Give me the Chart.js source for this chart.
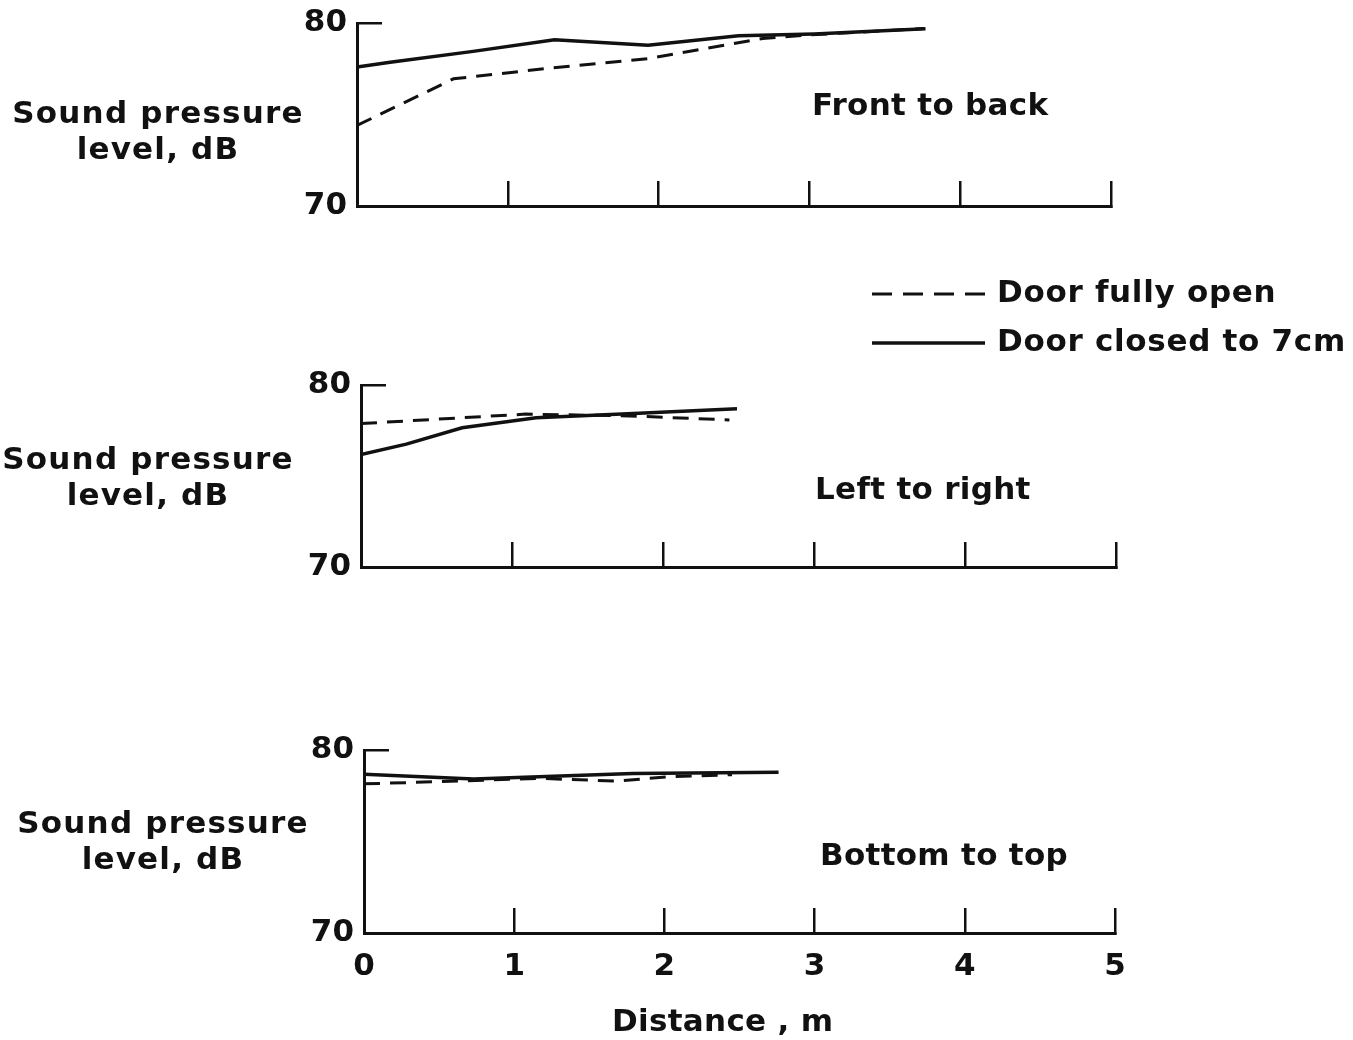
<!DOCTYPE html>
<html><head><meta charset="utf-8">
<script src="https://cdn.jsdelivr.net/npm/chart.js@4.4.0/dist/chart.umd.min.js"></script>
<style>
html,body{margin:0;padding:0;background:#fff;}
body{width:1353px;height:1040px;position:relative;overflow:hidden;}
canvas{position:absolute;left:0;}
.t{position:absolute;font-family:"DejaVu Sans";font-weight:bold;font-size:31px;color:#111;line-height:36px;letter-spacing:0.3px;white-space:nowrap;z-index:2;}
.yt{text-align:center;letter-spacing:1.2px;}
</style></head><body>
<canvas id="c1" width="1353" height="260" style="top:0px"></canvas>
<canvas id="c2" width="1353" height="360" style="top:260px"></canvas>
<canvas id="c3" width="1353" height="420" style="top:620px"></canvas>

<div class="t yt" style="left:0px;width:316px;top:94px">Sound pressure<br>level, dB</div>
<div class="t yt" style="left:0px;width:296px;top:440px">Sound pressure<br>level, dB</div>
<div class="t yt" style="left:0px;width:326px;top:804px">Sound pressure<br>level, dB</div>
<div class="t" id="p1" style="left:812px;top:86px"></div>
<div class="t" id="p2" style="left:815px;top:470px"></div>
<div class="t" id="p3" style="left:820px;top:836px"></div>
<div class="t" id="xt" style="left:612px;top:1002px"></div>

<script>
// ---- data ----
const xTickValues = [0, 1, 2, 3, 4, 5];
const yTickValues = [70, 80];
const panelNames = ['Front to back', 'Left to right', 'Bottom to top'];
const seriesNames = ['Door fully open', 'Door closed to 7cm'];
const xAxisTitle = 'Distance , m';

// Front to back
const ftbOpenX   = [0, 0.64, 1.24, 1.93, 2.69, 3.0, 3.76];
const ftbOpenY   = [74.4, 76.95, 77.5, 78.05, 79.15, 79.35, 79.7];
const ftbClosedX = [0, 0.22, 0.77, 1.31, 1.93, 2.53, 3.03, 3.77];
const ftbClosedY = [77.6, 77.85, 78.45, 79.08, 78.78, 79.3, 79.4, 79.68];

// Left to right
const ltrOpenX   = [0, 1.09, 1.78, 2.44];
const ltrOpenY   = [77.88, 78.4, 78.3, 78.08];
const ltrClosedX = [0, 0.3, 0.67, 1.16, 1.84, 2.49];
const ltrClosedY = [76.18, 76.75, 77.65, 78.2, 78.45, 78.7];

// Bottom to top
const bttOpenX   = [0, 0.5, 1.17, 1.68, 2.05, 2.45];
const bttOpenY   = [78.15, 78.27, 78.45, 78.3, 78.55, 78.65];
const bttClosedX = [0, 0.73, 1.79, 2.76];
const bttClosedY = [78.68, 78.42, 78.72, 78.78];

// ---- helpers ----
const FONT = 'DejaVu Sans';
const INK = '#111';
const zip = (xs, ys) => xs.map((x, i) => ({x: x, y: ys[i]}));

document.getElementById('p1').textContent = panelNames[0];
document.getElementById('p2').textContent = panelNames[1];
document.getElementById('p3').textContent = panelNames[2];
document.getElementById('xt').textContent = xAxisTitle;

const sideLegend = {
  id: 'sideLegend',
  afterDraw(chart, args, o) {
    if (!o || !o.items) return;
    const ctx = chart.ctx;
    ctx.save();
    o.items.forEach(it => {
      const d = chart.data.datasets[it.index];
      ctx.strokeStyle = d.borderColor;
      ctx.lineWidth = d.borderWidth;
      ctx.setLineDash(it.dash || d.borderDash || []);
      ctx.beginPath();
      ctx.moveTo(o.x0, it.y);
      ctx.lineTo(o.x1, it.y);
      ctx.stroke();
      ctx.setLineDash([]);
      ctx.fillStyle = INK;
      ctx.font = 'bold 31px "' + FONT + '"';
      try { ctx.letterSpacing = '0.7px'; } catch (e) {}
      ctx.textBaseline = 'middle';
      ctx.textAlign = 'left';
      ctx.fillText(d.label, o.tx, it.y);
    });
    ctx.restore();
  }
};

function makePanel(id, openX, openY, closedX, closedY, g, showX, legendOpts) {
  const canvas = document.getElementById(id);
  const H = canvas.height;
  const xAxisH = H - g.bottom;
  return new Chart(canvas, {
    type: 'line',
    data: {
      datasets: [
        {label: seriesNames[0], data: zip(openX, openY), borderColor: INK, borderWidth: 3,
         borderDash: [16, 10], pointRadius: 0, tension: 0, fill: false},
        {label: seriesNames[1], data: zip(closedX, closedY), borderColor: INK, borderWidth: 3.5,
         pointRadius: 0, tension: 0, fill: false}
      ]
    },
    options: {
      responsive: false,
      animation: false,
      events: [],
      layout: {padding: {left: 0, top: g.top, right: 1353 - g.right, bottom: 0}},
      plugins: {legend: {display: false}, tooltip: {enabled: false}, sideLegend: legendOpts || {}},
      scales: {
        x: {
          type: 'linear', min: 0, max: 5,
          afterBuildTicks: s => { s.ticks = xTickValues.map(v => ({value: v})); },
          afterFit: s => { s.height = xAxisH; s.paddingLeft = 0; s.paddingRight = 0; },
          border: {display: true, width: 3, color: INK},
          grid: {display: true, drawOnChartArea: false, drawTicks: true, tickLength: -25, lineWidth: 2.5, color: INK},
          ticks: {display: showX, padding: 40, color: INK, maxRotation: 0, autoSkip: false,
                  font: {family: FONT, size: 31, weight: 'bold'}}
        },
        y: {
          type: 'linear', min: 70, max: 80,
          afterBuildTicks: s => { s.ticks = yTickValues.map(v => ({value: v})); },
          afterFit: s => { s.width = g.left; s.paddingTop = 0; s.paddingBottom = 0; },
          border: {display: true, width: 3, color: INK},
          grid: {display: true, drawOnChartArea: false, drawTicks: true, tickLength: -25, lineWidth: 2.5, color: INK},
          ticks: {padding: 35, color: INK, font: {family: FONT, size: 31, weight: 'bold'}}
        }
      }
    },
    plugins: [sideLegend]
  });
}

makePanel('c1', ftbOpenX, ftbOpenY, ftbClosedX, ftbClosedY,
  {left: 357, right: 1111, top: 23, bottom: 206}, false);
makePanel('c2', ltrOpenX, ltrOpenY, ltrClosedX, ltrClosedY,
  {left: 361, right: 1116, top: 125, bottom: 307}, false,
  {x0: 872, x1: 985, tx: 997, items: [{index: 0, y: 34, dash: [20, 11]}, {index: 1, y: 83}]});
makePanel('c3', bttOpenX, bttOpenY, bttClosedX, bttClosedY,
  {left: 364, right: 1115, top: 130, bottom: 313}, true);
</script>
</body></html>
